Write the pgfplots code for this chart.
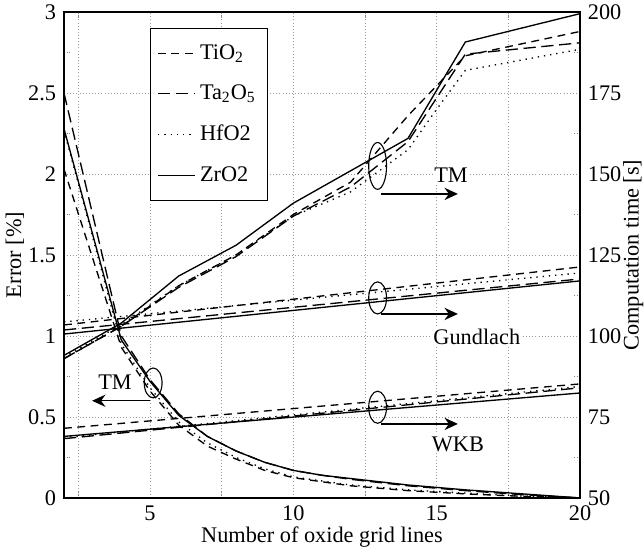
\documentclass[border=0pt]{standalone}
\usepackage{fontspec}
\setmainfont{Liberation Serif}
\usepackage{pgfplots}
\pgfplotsset{compat=1.18}
\usetikzlibrary{arrows.meta}

\pgfplotsset{
  tio/.style={black, line width=0.6pt, dash pattern=on 3.5pt off 2.5pt},
  tao/.style={black, line width=0.6pt, dash pattern=on 5.5pt off 2.5pt},
  hfo/.style={black, line width=0.6pt, dash pattern=on 0.6pt off 2.2pt},
  zro/.style={black, line width=0.6pt},
  base/.style={
    scale only axis, width=231.4pt, height=217.9pt,
    at={(0,0)}, anchor=south west,
    xmin=2, xmax=20,
    tick align=inside,
    ticklabel style={font=\fontsize{10}{12}\selectfont},
    label style={font=\fontsize{10}{12}\selectfont},
    /pgf/number format/assume math mode=true,
    axis line style={line width=1pt},
    major tick length=0pt, minor tick length=3.5pt,
    minor tick style={densely dotted, gray, line width=0.4pt},
  },
}

\begin{document}
\begin{tikzpicture}
% error (left axis)
\begin{axis}[base,
  ymin=0, ymax=3,
  xtick={5,10,15,20}, minor xtick={2.5,7.5,12.5,17.5},
  ytick={0,0.5,...,3}, minor ytick={0.25,0.75,...,2.75},
  ytick pos=left,
  xmajorgrids, xminorgrids, ymajorgrids,
  grid style={densely dotted, gray!80, line width=0.4pt},
  xlabel={Number of oxide grid lines},
  xlabel style={at={(rel axis cs:0.5,-0.080)}, anchor=center},
  ylabel={Error [\%]},
  ylabel style={at={(rel axis cs:-0.095,0.5)}, anchor=center},
]
\addplot[tio] coordinates {(2,2.03)(4,0.93)(5,0.66)(6,0.45)(7,0.32)(8,0.24)(9,0.17)(10,0.125)(11,0.10)(12,0.075)(13,0.06)(14,0.045)(16,0.025)(18,0.01)(20,0.0)};
\addplot[tao] coordinates {(2,2.5)(4,1.0)(5,0.73)(6,0.52)(7,0.38)(8,0.29)(9,0.22)(10,0.17)(11,0.14)(12,0.115)(13,0.095)(14,0.075)(16,0.045)(18,0.02)(20,0.0)};
\addplot[hfo] coordinates {(2,2.27)(4,0.95)(5,0.68)(6,0.47)(7,0.34)(8,0.25)(9,0.18)(10,0.13)(11,0.105)(12,0.08)(13,0.065)(14,0.05)(16,0.03)(18,0.012)(20,0.0)};
\addplot[zro] coordinates {(2,2.28)(4,0.975)(5,0.72)(6,0.51)(7,0.38)(8,0.29)(9,0.22)(10,0.17)(11,0.14)(12,0.12)(13,0.10)(14,0.08)(16,0.05)(18,0.025)(20,0.0)};

% annotations
\draw[line width=0.5pt] (axis cs:12.94,2.05) ellipse [x radius=4pt, y radius=10.5pt];
\draw[line width=0.5pt] (axis cs:12.94,1.235) ellipse [x radius=4pt, y radius=7.2pt];
\draw[line width=0.5pt] (axis cs:12.94,0.56) ellipse [x radius=4pt, y radius=7.2pt];
\draw[line width=0.5pt] (axis cs:5.11,0.71) ellipse [x radius=4pt, y radius=6.7pt];
\draw[line width=0.6pt, -{Stealth[length=6pt,width=5.5pt]}] (axis cs:13.05,1.877) -- (axis cs:15.74,1.877);
\draw[line width=0.6pt, -{Stealth[length=6pt,width=5.5pt]}] (axis cs:13.05,1.136) -- (axis cs:15.74,1.136);
\draw[line width=0.6pt, -{Stealth[length=6pt,width=5.5pt]}] (axis cs:13.05,0.457) -- (axis cs:15.74,0.457);
\draw[line width=0.6pt, -{Stealth[length=6pt,width=5.5pt]}] (axis cs:5.0,0.6) -- (axis cs:2.98,0.6);
\node[fill=white, inner sep=0.5pt, font=\fontsize{10}{12}\selectfont] at (axis cs:15.5,1.99) {TM};
\node[fill=white, inner sep=0.5pt, font=\fontsize{10}{12}\selectfont] at (axis cs:16.4,0.995) {Gundlach};
\node[fill=white, inner sep=0.5pt, font=\fontsize{10}{12}\selectfont] at (axis cs:15.74,0.333) {WKB};
\node[fill=white, inner sep=0.5pt, font=\fontsize{10}{12}\selectfont] at (axis cs:3.78,0.715) {TM};
\end{axis}

% computation time (right axis)
\begin{axis}[base,
  ymin=50, ymax=200,
  axis y line*=right, axis x line=none,
  ytick={50,75,...,200}, minor ytick={62.5,87.5,...,187.5},
  ylabel={Computation time [s]},
  ylabel style={at={(rel axis cs:1.103,0.5)}, anchor=center},
  legend style={at={(rel axis cs:0.167,0.967)}, anchor=north west,
    draw=black, line width=0.5pt, fill=white,
    font=\fontsize{10}{12}\selectfont,
    row sep=6pt, inner xsep=3pt, inner ysep=5pt,
    cells={anchor=west}},
  legend image code/.code={\draw[#1] (0pt,0pt) -- (16.5pt,0pt);},
]
\addlegendimage{tio}
\addlegendimage{tao}
\addlegendimage{hfo}
\addlegendimage{zro}
% TM
\addplot[tio, forget plot] coordinates {(2,93)(4,103)(6,115.5)(8,125)(10,137.5)(12,147.5)(14,168)(16,186.5)(20,194)};
\addplot[tao, forget plot] coordinates {(2,93)(4,103)(6,115)(8,124.5)(10,137)(12,146)(14,160)(16,187)(20,190.5)};
\addplot[hfo, forget plot] coordinates {(2,93.5)(4,103.5)(6,115.5)(8,125)(10,137)(12,144.5)(13,151)(14,157.5)(15,170)(16,182)(20,188.5)};
\addplot[zro, forget plot] coordinates {(2,94)(4,104)(6,118.5)(8,128)(10,141)(12,151)(14,161)(16,190.75)(20,199.5)};
% Gundlach
\addplot[tio, forget plot] coordinates {(2,103.4)(20,121.3)};
\addplot[tao, forget plot] coordinates {(2,101.85)(20,117.6)};
\addplot[hfo, forget plot] coordinates {(2,104.35)(20,119.45)};
\addplot[zro, forget plot] coordinates {(2,100.6)(20,117)};
% WKB
\addplot[tio, forget plot] coordinates {(2,71.5)(20,85.2)};
\addplot[tao, forget plot] coordinates {(2,68.3)(20,84)};
\addplot[hfo, forget plot] coordinates {(2,68.6)(20,84.4)};
\addplot[zro, forget plot] coordinates {(2,69)(20,82.4)};
\legend{TiO\textsubscript{2}, Ta\textsubscript{2}O\textsubscript{5}, HfO2, ZrO2}
\end{axis}
\pgfresetboundingbox
\path[use as bounding box] (-28.7pt,-22.9pt) rectangle (260.1pt,223.3pt);
\end{tikzpicture}
\end{document}
